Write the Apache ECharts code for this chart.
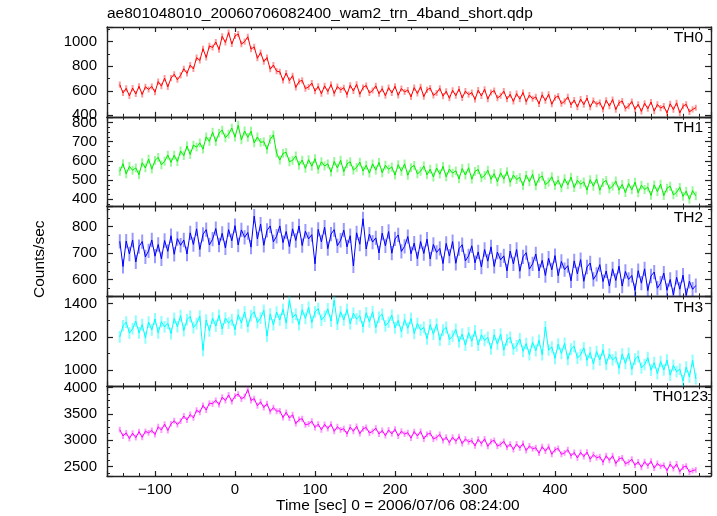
<!DOCTYPE html>
<html><head><meta charset="utf-8">
<script src="https://cdn.jsdelivr.net/npm/echarts@6/dist/echarts.min.js"></script>
<style>html,body{margin:0;padding:0;background:#fff}#c{width:717px;height:516px}</style>
</head><body><div id="c"></div>
<script>
const titleText = 'ae801048010_20060706082400_wam2_trn_4band_short.qdp';
const xLabel = 'Time [sec] 0 = 2006/07/06 08:24:00';
const yLabel = 'Counts/sec';
const bandNames = ['TH0', 'TH1', 'TH2', 'TH3', 'TH0123'];
const xTickLabels = [-100, 0, 100, 200, 300, 400, 500];
// time bins (s): start and step of the light-curve bins
const tStart = -144, tStep = 4;

const th0 = [
650,582,620,559,622, 574,637,570,633,611, 635,589,675,638,703, 632,703,735,690,726,
780,742,809,778,870, 847,943,871,966,953, 998,936,1044,994,1075, 981,1047,1063,980,1001,
1040,939,958,865,912, 837,871,776,810,760, 755,684,745,683,723, 627,676,685,618,631,
663,597,636,576,640, 594,651,578,635,607, 625,569,645,598,653, 572,627,643,582,602,
640,576,617,560,626, 582,637,563,619,590, 606,550,626,578,633, 552,607,623,562,582,
620,556,596,539,604, 560,615,542,597,569, 585,529,605,558,613, 532,586,602,540,560,
597,532,571,513,577, 532,586,511,565,535, 550,493,567,519,572, 490,543,558,495,514,
550,485,525,467,532, 487,541,466,520,490, 505,448,523,475,529, 447,502,517,456,475,
513,449,490,432,498, 454,509,434,489,459, 475,419,494,447,501, 420,474,490,428,448,
462];
const th1 = [
545,585,532,571,551, 563,528,590,563,609, 557,602,618,579,598, 630,592,629,596,651,
627,677,633,682,671, 693,661,725,701,749, 700,744,760,720,739, 770,723,785,709,755,
722,754,693,724,696, 700,660,712,735,640, 604,639,644,595,603, 625,577,604,561,606,
572,611,556,595,573, 584,542,597,563,603, 544,584,595,552,566, 593,547,577,536,584,
552,592,538,577,556, 568,526,580,546,584, 525,565,576,532,546, 573,527,556,516,563,
531,571,517,557,536, 548,506,560,526,564, 505,545,555,511,524, 551,504,533,491,538,
505,544,488,526,503, 514,471,526,491,530, 470,510,521,476,490, 517,471,500,460,507,
475,515,461,499,478, 490,448,502,468,506, 447,487,498,454,468, 495,448,477,435,482,
449,489,434,473,451, 463,420,475,440,479, 419,458,468,423,436, 462,415,442,400,445,
418];
const th2 = [
745,650,746,697,750, 667,725,744,686,709, 750,689,733,679,748, 707,766,696,755,730,
750,697,777,733,792, 714,771,789,731,753, 793,731,775,720,789, 747,804,731,788,760,
778,723,840,754,810, 730,786,803,743,764, 803,740,782,725,792, 748,803,729,783,754,
770,660,790,743,798, 717,772,789,728,749, 787,724,766,652,777, 734,830,716,772,742,
758,701,776,728,782, 700,754,769,707,726, 763,698,738,679,744, 699,753,678,733,703,
718,661,737,689,744, 662,717,732,671,690, 728,664,705,648,714, 670,724,650,704,675,
690,633,708,660,714, 632,686,702,640,660, 697,633,673,616,681, 637,691,615,669,638,
653,596,671,622,676, 594,648,663,601,620, 657,593,633,576,641, 597,651,576,631,601,
616,559,634,587,641, 559,614,629,568,587, 625,560,601,543,609, 564,617,541,594,564,
578];
const th3 = [
1201,1267,1289,1223,1249, 1295,1224,1274,1195,1289, 1242,1308,1225,1291,1260, 1282,1220,1311,1261,1328,
1238,1303,1323,1256,1280, 1325,1120,1301,1237,1313, 1265,1330,1248,1313,1283, 1304,1243,1333,1284,1350,
1261,1328,1351,1286,1313, 1360,1205,1337,1273,1349, 1302,1366,1283,1420,1316, 1337,1274,1363,1311,1377,
1286,1350,1370,1301,1324, 1368,1295,1420,1276,1351, 1302,1365,1279,1342,1308, 1327,1260,1345,1290,1351,
1256,1318,1336,1266,1288, 1330,1254,1299,1231,1304, 1252,1311,1221,1280,1242, 1257,1189,1273,1217,1277,
1181,1241,1257,1185,1205, 1245,1171,1217,1151,1225, 1175,1237,1151,1213,1179, 1197,1129,1213,1157,1217,
1121,1182,1198,1127,1147, 1188,1114,1160,1094,1168, 1118,1180,1094,1260,1122, 1140,1072,1157,1101,1162,
1066,1127,1144,1073,1094, 1135,1060,1106,1039,1113, 1062,1123,1036,1098,1063, 1080,1012,1097,1041,1102,
1006,1067,1084,1014,1035, 1076,1001,1046,980,1053, 1002,1061,971,1030,992, 1007,937,1019,961,1060,
950];
const th0123 = [
3200,3080,3140,3032,3134, 3050,3164,3056,3170,3140, 3188,3108,3256,3194,3306, 3184,3310,3370,3298,3364,
3460,3384,3488,3424,3570, 3530,3662,3572,3704,3692, 3758,3674,3818,3752,3860, 3734,3838,3876,3782,3826,
3960,3754,3788,3654,3730, 3620,3694,3546,3620,3550, 3558,3430,3530,3420,3484, 3314,3394,3408,3290,3310,
3360,3242,3304,3198,3302, 3220,3306,3170,3256,3198, 3218,3120,3250,3170,3264, 3124,3216,3242,3136,3168,
3230,3118,3186,3086,3196, 3120,3211,3080,3171,3118, 3143,3040,3165,3080,3169, 3024,3112,3134,3024,3052,
3110,2994,3058,2954,3060, 2980,3069,2936,3025,2970, 2993,2892,3019,2936,3027, 2884,2974,2998,2890,2920,
2980,2864,2928,2824,2930, 2850,2938,2804,2892,2836, 2858,2754,2878,2792,2880, 2734,2822,2844,2734,2762,
2820,2704,2768,2664,2770, 2690,2776,2640,2726,2668, 2688,2583,2706,2619,2706, 2559,2646,2667,2556,2583,
2640,2525,2590,2487,2594, 2515,2604,2471,2560,2505, 2528,2424,2548,2462,2550, 2404,2490,2510,2398,2424,
2440];
// typical 1-sigma error of each band (counts/sec)
const errTH = [25, 23, 27, 35, 55];

// axis ranges
const xMin = -160, xMax = 595;
const yMin = [388, 362, 537, 905, 2322];
const yMax = [1120, 829, 876, 1443, 4025];
const yMajor = [200, 100, 100, 200, 500];
const yMinorSplit = [2, 4, 3, 2, 4];

const allSeries = [th0, th1, th2, th3, th0123];
const colors = ['#ff0000', '#00ee00', '#0000ff', '#00ffff', '#ff00ff'];
const haloColors = ['rgba(255,0,0,0.4)', 'rgba(0,238,0,0.4)', 'rgba(0,0,255,0.4)', 'rgba(0,255,255,0.45)', 'rgba(255,0,255,0.4)'];

const FONT = 'Liberation Sans, Arial, Helvetica, sans-serif';
const AX = '#222';
const gridTop = 27, gridH = 89.8, gridLeft = 107, gridRight = 6;

const grids = [], xAxes = [], yAxes = [], series = [], graphics = [];
const minus = s => String(s).replace('-', '\u2212');

for (let i = 0; i < 5; i++) {
  const top = gridTop + i * gridH;
  grids.push({ left: gridLeft, right: gridRight, top: top, height: gridH, containLabel: false });
  ['bottom', 'top'].forEach(pos => {
    xAxes.push({
      type: 'value', gridIndex: i, position: pos, min: xMin, max: xMax, splitNumber: 8,
      axisLine: { show: true, onZero: false, lineStyle: { color: AX, width: 1.4 } },
      axisTick: { show: true, inside: true, length: 5, lineStyle: { color: AX, width: 1.2 } },
      splitLine: { show: false },
      axisLabel: {
        show: (i === 4 && pos === 'bottom'), margin: 6, color: '#000', fontSize: 15, fontFamily: FONT,
        formatter: v => (xTickLabels.indexOf(v) >= 0 ? minus(v) : '')
      }
    });
    xAxes.push({
      type: 'value', gridIndex: i, position: pos, min: xMin, max: xMax, interval: 20,
      axisLine: { show: false, onZero: false },
      axisTick: { show: true, inside: true, length: 3, lineStyle: { color: AX, width: 1 } },
      splitLine: { show: false }, axisLabel: { show: false }
    });
  });
  ['left', 'right'].forEach(pos => {
    yAxes.push({
      type: 'value', gridIndex: i, position: pos, min: yMin[i], max: yMax[i],
      splitNumber: Math.round((yMax[i] - yMin[i]) / yMajor[i]),
      axisLine: { show: true, onZero: false, lineStyle: { color: AX, width: 1.4 } },
      axisTick: { show: true, inside: true, length: 6, lineStyle: { color: AX, width: 1.2 } },
      minorTick: { show: true, splitNumber: yMinorSplit[i], length: 3, lineStyle: { color: AX, width: 1 } },
      splitLine: { show: false },
      axisLabel: {
        show: pos === 'left', margin: 10, color: '#000', fontSize: 15, fontFamily: FONT,
        formatter: v => (Math.abs(v % yMajor[i]) < 1e-6 ? String(v) : '')
      }
    });
  });
  const data = allSeries[i].map((v, k) => [tStart + k * tStep, v]);
  const errData = allSeries[i].map((v, k) => [tStart + k * tStep, v, errTH[i]]);
  const halo = haloColors[i];
  series.push({
    type: 'custom', xAxisIndex: i * 4, yAxisIndex: i * 2, data: errData, silent: true, z: 2, clip: true,
    encode: { x: 0, y: 1 },
    renderItem: (params, api) => {
      const t = api.value(0), v = api.value(1), e = api.value(2);
      const p1 = api.coord([t, v - e]), p2 = api.coord([t, v + e]);
      return { type: 'line', shape: { x1: p1[0], y1: p1[1], x2: p2[0], y2: p2[1] },
               style: { stroke: halo, lineWidth: 2 } };
    }
  });
  series.push({
    type: 'line', xAxisIndex: i * 4, yAxisIndex: i * 2, data: data, showSymbol: false,
    lineStyle: { color: colors[i], width: 1 }, silent: true, z: 3
  });
  graphics.push({
    type: 'text', right: i === 4 ? 9 : 14, top: top + 3,
    style: { text: bandNames[i], fill: '#000', fontSize: 15.5, fontFamily: FONT }
  });
}

graphics.push({ type: 'text', left: 107, top: 6, style: { text: titleText, fill: '#000', fontSize: 15.5, fontFamily: FONT } });
graphics.push({ type: 'text', left: 276, top: 498, style: { text: xLabel, fill: '#000', fontSize: 15.5, fontFamily: FONT } });
graphics.push({ type: 'text', x: 32, y: 298, rotation: Math.PI / 2, style: { text: yLabel, fill: '#000', fontSize: 15.5, fontFamily: FONT } });

const chart = echarts.init(document.getElementById('c'), null, { renderer: 'canvas' });
chart.setOption({
  animation: false,
  backgroundColor: '#fff',
  grid: grids, xAxis: xAxes, yAxis: yAxes, series: series, graphic: graphics
});
</script></body></html>
